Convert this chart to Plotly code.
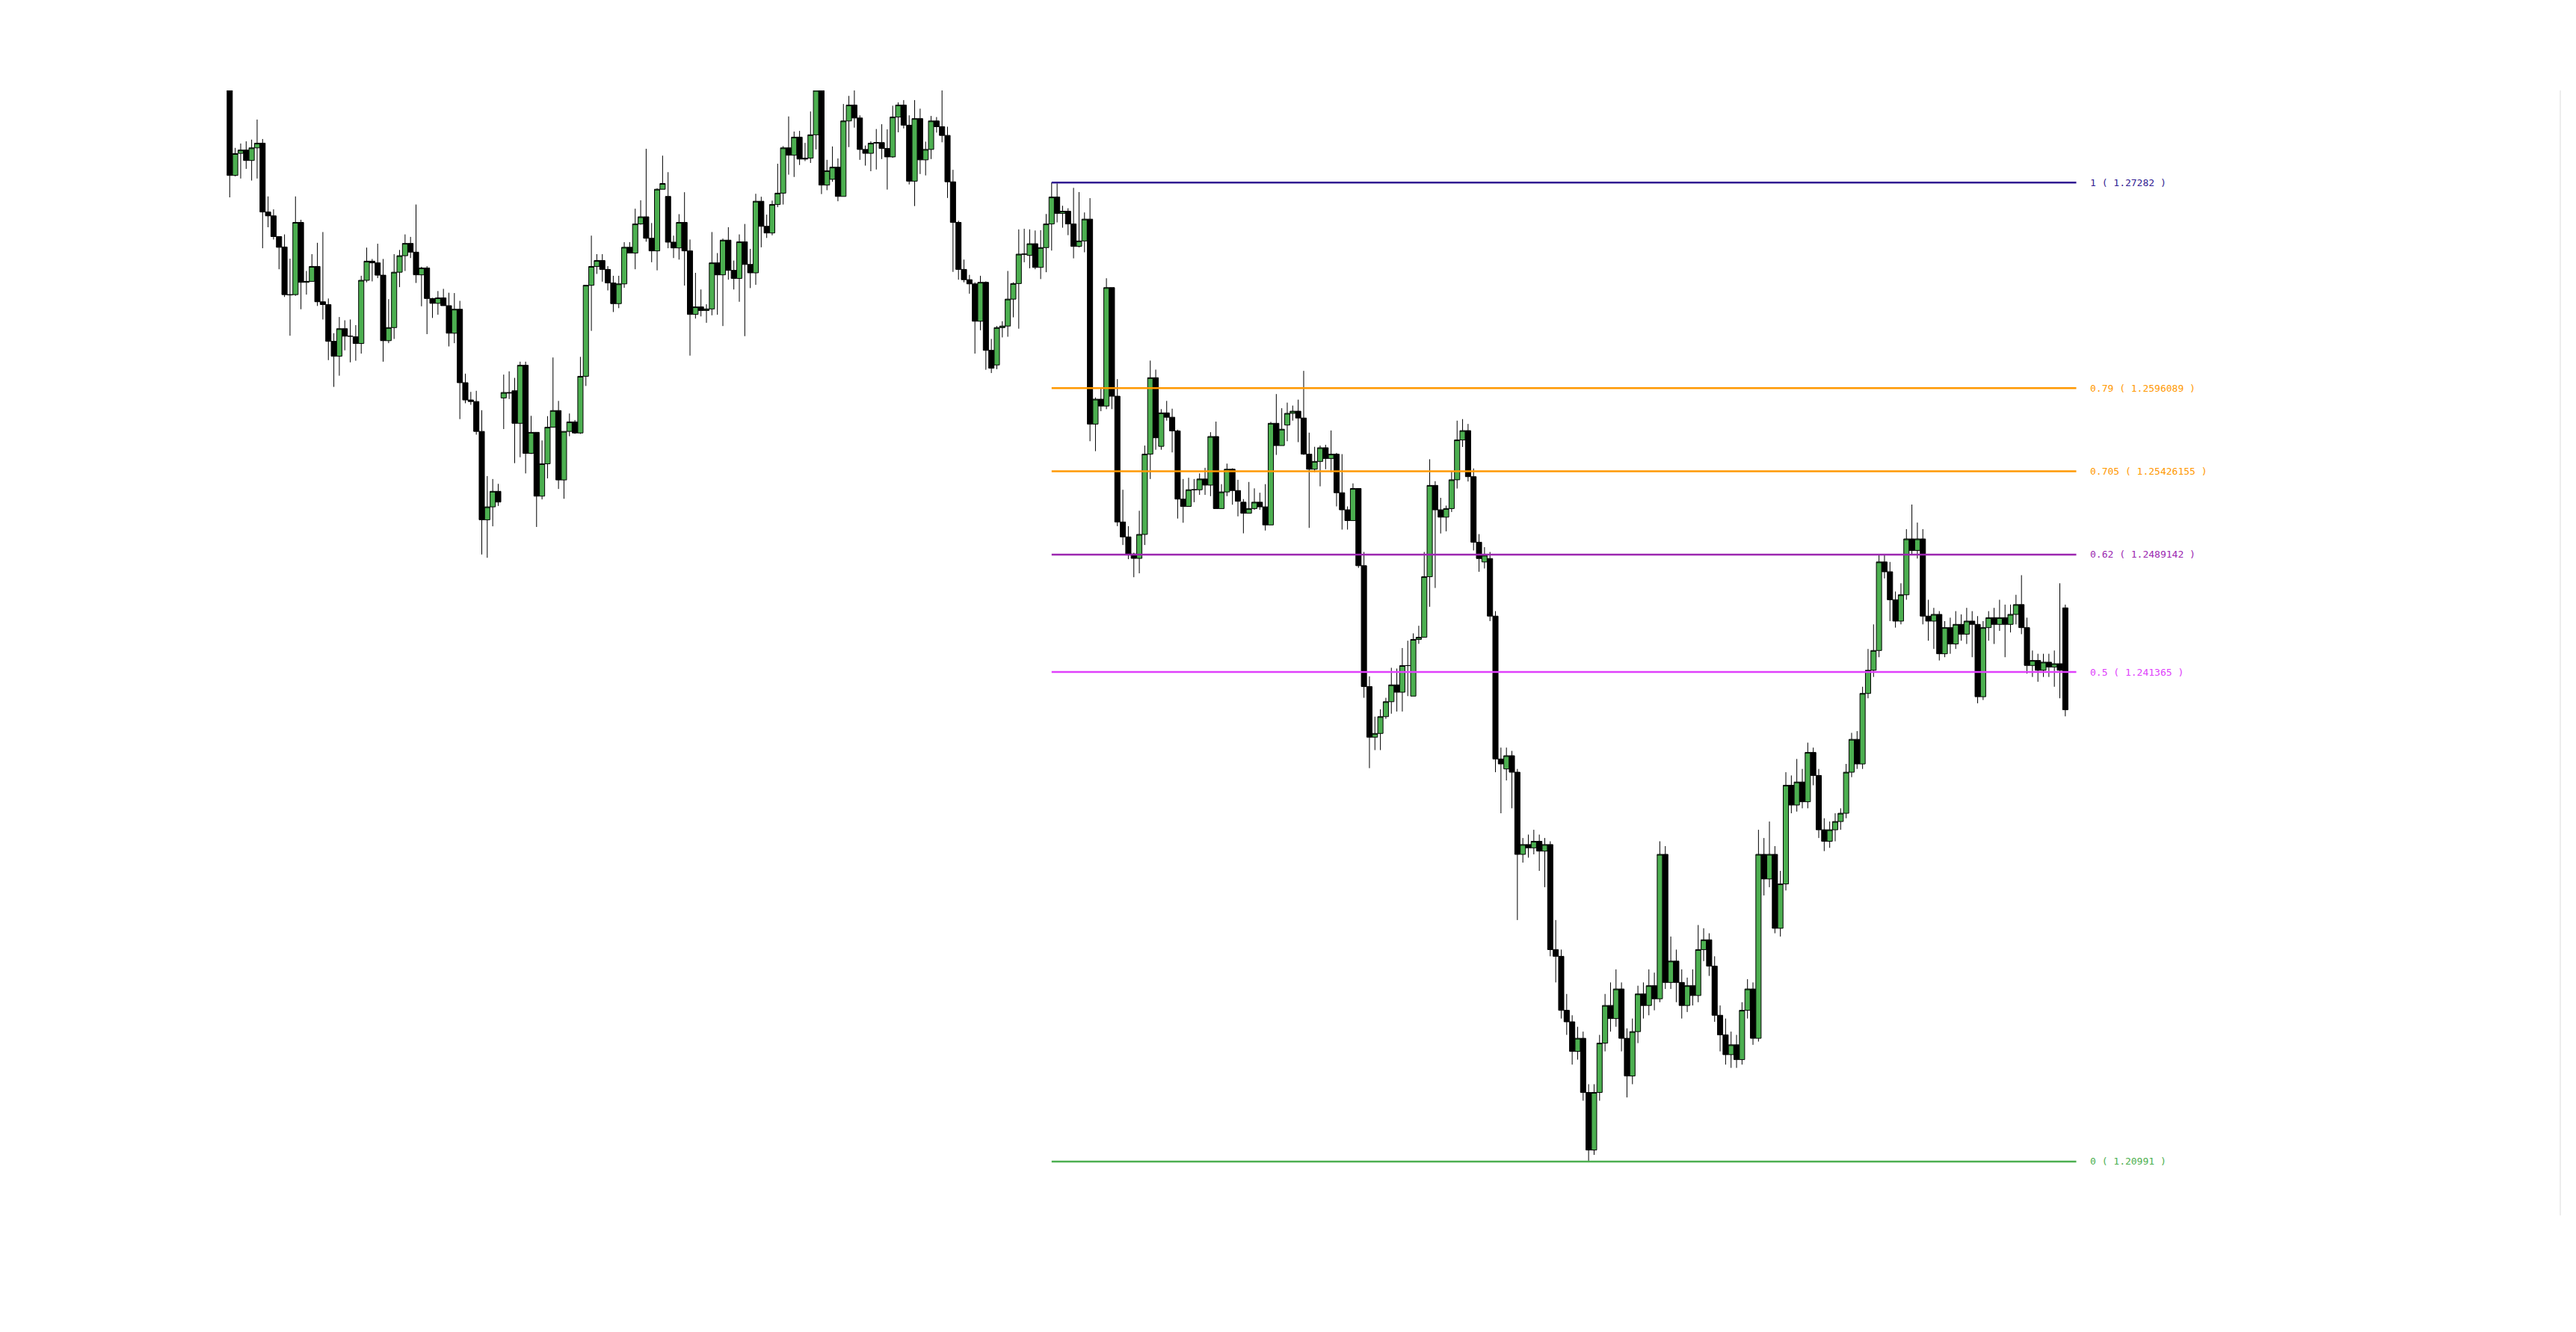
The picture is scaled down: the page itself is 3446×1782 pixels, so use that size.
import plotly.graph_objects as go

# ---- candle data ----
opens = [1.27874,1.27328,1.27470,1.27491,1.27424,1.27505,1.27535,1.27093,1.27068,1.26935,
1.26868,1.26562,1.26562,1.27026,1.26641,1.26647,1.26743,1.26516,1.26498,1.26262,
1.26166,1.26343,1.26295,1.26291,1.26248,1.26654,1.26777,1.26766,1.26687,1.26266,
1.26350,1.26706,1.26812,1.26891,1.26835,1.26689,1.26733,1.26537,1.26506,1.26541,
1.26491,1.26314,1.26468,1.25996,1.25885,1.25875,1.25683,1.25115,1.25198,1.25298,
1.25898,1.25933,1.25944,1.25735,1.26108,1.25542,1.25677,1.25267,1.25475,1.25710,
1.25817,1.25371,1.25683,1.25744,1.25673,1.26037,1.26622,1.26743,1.26781,1.26724,
1.26637,1.26504,1.26631,1.26866,1.26829,1.27016,1.27062,1.26924,1.26843,1.27239,
1.27193,1.26899,1.26862,1.27026,1.26843,1.26435,1.26483,1.26460,1.26470,1.26766,
1.26689,1.26912,1.26718,1.26666,1.26901,1.26756,1.26702,1.27162,1.27001,1.26958,
1.27141,1.27214,1.27505,1.27458,1.27574,1.27439,1.27439,1.27589,1.27874,1.27266,
1.27303,1.27381,1.27193,1.27678,1.27780,1.27697,1.27495,1.27470,1.27535,1.27539,
1.27501,1.27447,1.27703,1.27780,1.27651,1.27291,1.27693,1.27428,1.27495,1.27678,
1.27641,1.27585,1.27287,1.27026,1.26724,1.26658,1.26631,1.26391,1.26641,1.26204,
1.26110,1.26350,1.26360,1.26533,1.26633,1.26822,1.26814,1.26889,1.26737,1.26864,
1.27016,1.27189,1.27084,1.27098,1.27016,1.26872,1.26907,1.27047,1.25730,1.25890,
1.25846,1.26607,1.25909,1.25101,1.25005,1.24895,1.24867,1.25021,1.25537,1.26028,
1.25587,1.25802,1.25774,1.25686,1.25248,1.25201,1.25308,1.25308,1.25377,1.25338,
1.25650,1.25187,1.25294,1.25440,1.25303,1.25228,1.25157,1.25187,1.25228,1.25198,
1.25082,1.25735,1.25592,1.25724,1.25799,1.25813,1.25769,1.25537,1.25440,1.25490,
1.25578,1.25509,1.25537,1.25289,1.25179,1.25110,1.25316,1.24820,1.24043,1.23718,
1.23742,1.23850,1.23946,1.24054,1.24007,1.24178,1.23982,1.24346,1.24360,1.24749,
1.25336,1.25179,1.25132,1.25187,1.25372,
1.25628,1.25688,1.25392,1.24971,1.24844,1.24866,1.24496,1.23578,1.23514,1.23599,
1.23493,1.22965,1.23028,1.23007,1.23049,1.22986,1.23028,1.22353,1.22310,1.21963,
1.21889,1.21699,1.21783,1.21435,1.21065,1.21435,1.21752,1.21994,1.21910,1.22100,
1.21783,1.21541,1.21826,1.22068,1.21994,1.22121,1.22037,1.22965,1.22142,1.22279,
1.22142,1.21994,1.22121,1.22058,1.22353,1.22416,1.22247,1.21931,1.21805,1.21678,
1.21741,1.21646,1.21963,1.22100,1.21783,1.22965,1.22807,1.22965,1.22490,1.22775,
1.23409,1.23282,1.23430,1.23303,1.23620,1.23472,1.23123,1.23049,1.23123,1.23176,
1.23229,1.23493,1.23704,1.23546,1.23999,1.24148,1.24275,1.24844,1.24781,1.24601,
1.24464,1.24633,1.24992,1.24918,1.24992,1.24496,1.24464,1.24507,1.24254,1.24422,
1.24317,1.24443,1.24380,1.24464,1.24443,1.23978,1.24422,1.24486,1.24443,1.24486,
1.24443,1.24507,1.24570,1.24422,1.24179,1.24211,1.24148,1.24200,1.24169,1.24190,
1.24549]
highs = [1.27874,1.27505,1.27533,1.27547,1.27558,1.27687,1.27562,1.27193,1.27110,1.26935,
1.26949,1.26793,1.27193,1.27043,1.26714,1.26822,1.26895,1.26964,1.26537,1.26314,
1.26418,1.26397,1.26402,1.26366,1.26683,1.26864,1.26791,1.26889,1.26791,1.26533,
1.26822,1.26849,1.26949,1.26933,1.27141,1.26741,1.26745,1.26541,1.26585,1.26599,
1.26574,1.26572,1.26522,1.26054,1.25937,1.25944,1.25819,1.25396,1.25377,1.25346,
1.26048,1.26069,1.26027,1.26131,1.26131,1.25783,1.25677,1.25625,1.25781,1.26158,
1.25879,1.25683,1.25798,1.25756,1.26162,1.26622,1.26941,1.26822,1.26822,1.26745,
1.26683,1.26683,1.26899,1.26899,1.27114,1.27168,1.27499,1.27022,1.27245,1.27455,
1.27349,1.26941,1.27079,1.27220,1.26916,1.26702,1.26595,1.26500,1.26964,1.26829,
1.26922,1.26995,1.26781,1.26949,1.27016,1.26856,1.27210,1.27191,1.27076,1.27166,
1.27403,1.27516,1.27707,1.27610,1.27614,1.27537,1.27739,1.27874,1.27874,1.27428,
1.27514,1.27437,1.27787,1.27839,1.27874,1.27714,1.27520,1.27547,1.27626,1.27657,
1.27624,1.27776,1.27797,1.27812,1.27714,1.27812,1.27757,1.27545,1.27710,1.27703,
1.27874,1.27641,1.27364,1.27037,1.26787,1.26689,1.26641,1.26683,1.26647,1.26277,
1.26360,1.26391,1.26714,1.26641,1.26981,1.26985,1.26981,1.26974,1.26976,1.27080,
1.27282,1.27277,1.27133,1.27117,1.27248,1.27221,1.27090,1.27182,1.25901,1.25962,
1.26667,1.26607,1.26019,1.25308,1.25074,1.24903,1.25173,1.25592,1.26138,1.26080,
1.25826,1.25879,1.25829,1.25694,1.25377,1.25385,1.25377,1.25413,1.25449,1.25678,
1.25746,1.25344,1.25476,1.25446,1.25372,1.25248,1.25358,1.25317,1.25289,1.25344,
1.25744,1.25923,1.25832,1.25868,1.25849,1.25887,1.26072,1.25675,1.25584,1.25592,
1.25597,1.25689,1.25545,1.25537,1.25201,1.25349,1.25316,1.24908,1.24109,1.23850,
1.23897,1.23971,1.24164,1.24159,1.24291,1.24338,1.24385,1.24434,1.24908,1.25504,
1.25363,1.25256,1.25206,1.25427,1.25752,
1.25762,1.25731,1.25445,1.25023,1.24939,1.24908,1.24528,1.23651,1.23651,1.23630,
1.23514,1.23070,1.23092,1.23123,1.23092,1.23070,1.23049,1.22543,1.22353,1.22068,
1.21931,1.21857,1.21826,1.21488,1.21488,1.21805,1.22068,1.22142,1.22226,1.22142,
1.21847,1.21910,1.22121,1.22142,1.22226,1.22205,1.23049,1.23018,1.22437,1.22353,
1.22226,1.22173,1.22226,1.22511,1.22490,1.22458,1.22310,1.21994,1.21910,1.21826,
1.21805,1.22015,1.22163,1.22142,1.23123,1.23070,1.23176,1.23018,1.22859,1.23493,
1.23472,1.23578,1.23514,1.23683,1.23651,1.23514,1.23197,1.23176,1.23229,1.23261,
1.23546,1.23746,1.23757,1.24042,1.24285,1.24443,1.24887,1.24887,1.24844,1.24654,
1.24707,1.25055,1.25213,1.25097,1.25055,1.24601,1.24549,1.24528,1.24464,1.24486,
1.24528,1.24507,1.24549,1.24528,1.24496,1.24464,1.24528,1.24549,1.24601,1.24570,
1.24570,1.24633,1.24759,1.24486,1.24275,1.24254,1.24254,1.24254,1.24275,1.24707,
1.24570]
lows = [1.27187,1.27322,1.27308,1.27370,1.27295,1.27308,1.26860,1.26995,1.26916,1.26725,
1.26547,1.26298,1.26554,1.26468,1.26562,1.26647,1.26489,1.26402,1.26141,1.25969,
1.26041,1.26204,1.26127,1.26137,1.26183,1.26641,1.26647,1.26668,1.26131,1.26250,
1.26277,1.26610,1.26714,1.26797,1.26637,1.26487,1.26308,1.26412,1.26433,1.26491,
1.26229,1.26250,1.25762,1.25864,1.25854,1.25662,1.24892,1.24871,1.25073,1.25204,
1.25698,1.25891,1.25479,1.25517,1.25413,1.25538,1.25069,1.25246,1.25381,1.25710,
1.25313,1.25250,1.25652,1.25667,1.25667,1.25975,1.26329,1.26695,1.26645,1.26589,
1.26450,1.26475,1.26606,1.26829,1.26725,1.27012,1.26902,1.26770,1.26718,1.27239,
1.26860,1.26797,1.26787,1.26620,1.26170,1.26408,1.26422,1.26381,1.26429,1.26433,
1.26360,1.26658,1.26595,1.26516,1.26295,1.26604,1.26625,1.26866,1.26926,1.26943,
1.27124,1.27141,1.27333,1.27318,1.27395,1.27420,1.27408,1.27495,1.27208,1.27233,
1.27287,1.27162,1.27193,1.27510,1.27635,1.27428,1.27391,1.27355,1.27366,1.27433,
1.27237,1.27441,1.27605,1.27630,1.27270,1.27131,1.27337,1.27328,1.27433,1.27603,
1.27541,1.27183,1.26708,1.26658,1.26641,1.26568,1.26183,1.26333,1.26079,1.26058,
1.26083,1.26287,1.26291,1.26416,1.26343,1.26770,1.26731,1.26725,1.26662,1.26706,
1.26845,1.27026,1.26992,1.26944,1.26795,1.26866,1.26834,1.25620,1.25556,1.25813,
1.25826,1.25826,1.25074,1.24953,1.24862,1.24746,1.24771,1.24953,1.25377,1.25565,
1.25565,1.25752,1.25548,1.25123,1.25096,1.25201,1.25228,1.25275,1.25275,1.25267,
1.25187,1.25187,1.25267,1.25212,1.25137,1.25028,1.25157,1.25179,1.25179,1.25046,
1.25082,1.25532,1.25592,1.25620,1.25752,1.25614,1.25532,1.25063,1.25421,1.25330,
1.25440,1.25421,1.25201,1.25052,1.25052,1.25110,1.24806,1.23971,1.23519,1.23635,
1.23635,1.23836,1.23869,1.23883,1.23883,1.23982,1.23982,1.24318,1.24360,1.24556,
1.24677,1.25027,1.25041,1.25165,1.25316,
1.25583,1.25361,1.24918,1.24781,1.24802,1.24464,1.23493,1.23229,1.23440,1.23261,
1.22543,1.22912,1.22944,1.22965,1.22859,1.22754,1.22310,1.22142,1.21910,1.21805,
1.21614,1.21646,1.21382,1.20991,1.21034,1.21382,1.21699,1.21826,1.21857,1.21699,
1.21403,1.21488,1.21752,1.21910,1.21931,1.21963,1.22015,1.22100,1.22100,1.22015,
1.21910,1.21952,1.21994,1.22015,1.22279,1.22184,1.21889,1.21699,1.21614,1.21593,
1.21593,1.21614,1.21910,1.21741,1.21762,1.22701,1.22754,1.22458,1.22437,1.22733,
1.23229,1.23240,1.23261,1.23261,1.23409,1.23070,1.22986,1.23007,1.23049,1.23123,
1.23197,1.23461,1.23514,1.23514,1.23968,1.24105,1.24232,1.24738,1.24464,1.24422,
1.24443,1.24601,1.24887,1.24866,1.24443,1.24338,1.24285,1.24211,1.24232,1.24254,
1.24285,1.24338,1.24317,1.24232,1.23936,1.23957,1.24338,1.24317,1.24401,1.24232,
1.24391,1.24443,1.24380,1.24127,1.24105,1.24074,1.24105,1.24105,1.24042,1.23968,
1.23852]
closes = [1.27328,1.27468,1.27491,1.27424,1.27505,1.27535,1.27093,1.27068,1.26935,1.26866,
1.26562,1.26560,1.27026,1.26641,1.26647,1.26743,1.26516,1.26498,1.26262,1.26166,
1.26343,1.26295,1.26295,1.26248,1.26654,1.26777,1.26766,1.26687,1.26266,1.26350,
1.26706,1.26812,1.26891,1.26835,1.26689,1.26733,1.26537,1.26506,1.26541,1.26491,
1.26314,1.26468,1.25996,1.25885,1.25875,1.25683,1.25115,1.25198,1.25298,1.25229,
1.25933,1.25930,1.25735,1.26108,1.25542,1.25677,1.25267,1.25475,1.25710,1.25817,
1.25371,1.25683,1.25744,1.25673,1.26037,1.26622,1.26743,1.26781,1.26724,1.26637,
1.26504,1.26631,1.26866,1.26829,1.27016,1.27062,1.26924,1.26843,1.27239,1.27276,
1.26899,1.26862,1.27026,1.26843,1.26435,1.26483,1.26460,1.26470,1.26766,1.26689,
1.26912,1.26718,1.26666,1.26901,1.26756,1.26702,1.27162,1.27001,1.26958,1.27141,
1.27214,1.27505,1.27458,1.27574,1.27433,1.27433,1.27589,1.27874,1.27266,1.27358,
1.27381,1.27193,1.27678,1.27780,1.27697,1.27495,1.27470,1.27535,1.27539,1.27501,
1.27447,1.27703,1.27780,1.27651,1.27291,1.27693,1.27428,1.27495,1.27678,1.27641,
1.27585,1.27287,1.27026,1.26724,1.26658,1.26631,1.26391,1.26641,1.26204,1.26089,
1.26350,1.26360,1.26533,1.26633,1.26822,1.26822,1.26889,1.26737,1.26864,1.27016,
1.27189,1.27084,1.27098,1.27016,1.26872,1.26907,1.27047,1.25730,1.25890,1.25846,
1.26607,1.25909,1.25101,1.25005,1.24895,1.24867,1.25021,1.25537,1.26028,1.25642,
1.25802,1.25774,1.25686,1.25248,1.25201,1.25308,1.25308,1.25377,1.25338,1.25650,
1.25187,1.25294,1.25440,1.25303,1.25234,1.25157,1.25187,1.25228,1.25198,1.25082,
1.25735,1.25592,1.25697,1.25799,1.25813,1.25769,1.25537,1.25440,1.25490,1.25578,
1.25509,1.25537,1.25289,1.25179,1.25110,1.25316,1.24820,1.24043,1.23718,1.23742,
1.23850,1.23946,1.24054,1.24007,1.24178,1.24178,1.24346,1.24360,1.24749,1.25336,
1.25179,1.25132,1.25187,1.25372,1.25628,
1.25688,1.25392,1.24971,1.24866,1.24887,1.24496,1.23578,1.23546,1.23599,1.23493,
1.22965,1.23028,1.23007,1.23049,1.22986,1.23028,1.22353,1.22310,1.21963,1.21889,
1.21699,1.21783,1.21435,1.21065,1.21435,1.21752,1.21994,1.21910,1.22100,1.21783,
1.21541,1.21826,1.22068,1.21994,1.22121,1.22037,1.22965,1.22142,1.22279,1.22142,
1.21994,1.22121,1.22058,1.22353,1.22416,1.22247,1.21931,1.21805,1.21678,1.21741,
1.21646,1.21963,1.22100,1.21783,1.22965,1.22807,1.22965,1.22490,1.22775,1.23409,
1.23282,1.23430,1.23303,1.23620,1.23472,1.23123,1.23049,1.23123,1.23176,1.23229,
1.23493,1.23704,1.23546,1.23999,1.24148,1.24275,1.24844,1.24781,1.24601,1.24464,
1.24633,1.24992,1.24918,1.24992,1.24496,1.24464,1.24507,1.24254,1.24422,1.24317,
1.24443,1.24380,1.24464,1.24443,1.23978,1.24422,1.24486,1.24443,1.24486,1.24443,
1.24507,1.24570,1.24422,1.24179,1.24211,1.24148,1.24200,1.24169,1.24190,1.24148,
1.23894]

# ---- Fibonacci levels ----
fib_levels = ["1", "0.79", "0.705", "0.62", "0.5", "0"]
fib_prices = [1.27282, 1.2596089, 1.25426155, 1.2489142, 1.241365, 1.20991]
fib_colors = ["#311b92", "#ff9800", "#ff9800", "#9c27b0", "#e040fb", "#4caf50"]
fib_start_idx = 150
fib_end_idx = 337

x = list(range(len(opens)))

fig = go.Figure()
fig.add_trace(go.Candlestick(
    x=x, open=opens, high=highs, low=lows, close=closes,
    increasing=dict(line=dict(color="#000000", width=1), fillcolor="#4caf50"),
    decreasing=dict(line=dict(color="#000000", width=1), fillcolor="#000000"),
    whiskerwidth=0, showlegend=False, hoverinfo="skip",
))

for lvl, p, c in zip(fib_levels, fib_prices, fib_colors):
    fig.add_trace(go.Scatter(
        x=[fib_start_idx, fib_end_idx], y=[p, p], mode="lines",
        line=dict(color=c, width=2.5), showlegend=False, hoverinfo="skip",
    ))
    fig.add_annotation(
        x=fib_end_idx, y=p, xref="x", yref="y",
        text=f"{lvl} ( {p} )", showarrow=False,
        xanchor="left", yanchor="middle", xshift=16,
        font=dict(family="DejaVu Sans Mono", size=13, color=c),
    )

fig.update_layout(
    width=3430, height=1766,
    paper_bgcolor="white", plot_bgcolor="white",
    margin=dict(l=80, r=14, t=113, b=148),
    boxgap=0.04, boxgroupgap=0,
    showlegend=False,
)
fig.update_xaxes(range=[-29.92, 425.2], showgrid=False, zeroline=False,
                 showticklabels=False, showline=False, rangeslider_visible=False,
                 fixedrange=True)
fig.update_yaxes(range=[1.20645, 1.27874], showgrid=False, zeroline=False,
                 showticklabels=False, side="right", showline=True,
                 linecolor="#eeeeee", linewidth=2, fixedrange=True)

fig.write_html("out.html")
